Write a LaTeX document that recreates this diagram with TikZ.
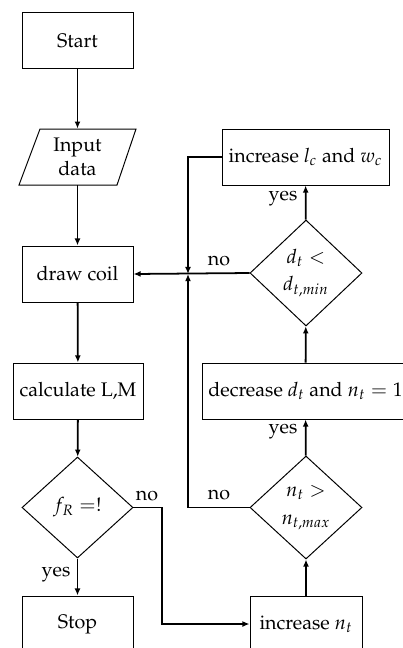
\documentclass[tikz,border=0pt]{standalone}
\usepackage[T1]{fontenc}
\usepackage{mathpazo}
\usetikzlibrary{shapes.geometric,arrows.meta}
\def\pxu{0.5086pt}
\tikzset{
  box/.style={draw, line width=0.5pt, rectangle, inner sep=0pt, minimum height=56*\pxu, align=center},
  dia/.style={draw, line width=0.5pt, diamond, inner sep=0pt, align=center},
  flow/.style={line width=0.9pt, -{Latex[length=3.6pt,width=3pt]}},
  lbl/.style={inner sep=0pt}
}
\begin{document}
\begin{tikzpicture}[x=0.5086pt,y=-0.5086pt]
\useasboundingbox (0,0) rectangle (403,648);
\clip (0,0) rectangle (403,648);
% left column
\node[box, minimum width=111*\pxu] (start) at (77.5,40.5) {Start};
\node[inner sep=0pt, minimum height=56*\pxu, minimum width=60*\pxu, align=center] (input) at (77.5,157) {Input\\data};
\draw[line width=0.5pt] (40,129) -- (136,129) -- (117,185) -- (19,185) -- cycle;
\node[box, minimum width=111*\pxu] (coil) at (77.5,274) {draw coil};
\node[box, minimum width=130*\pxu] (calc) at (78,391) {calculate L,M};
\node[dia, minimum width=111*\pxu, minimum height=101*\pxu] (fR) at (77.5,507.5) {$f_R =!$};
\node[box, minimum width=111*\pxu] (stop) at (77.5,624) {Stop};
% right column
\node[box, minimum width=167*\pxu] (lc) at (305.5,157) {increase $l_c$ and $w_c$};
\node[dia, minimum width=112*\pxu, minimum height=106*\pxu] (dt) at (306,273) {$d_t<$\\[2pt]$d_{t,min}$};
\node[box, minimum width=207*\pxu] (dec) at (305.5,391) {decrease $d_t$ and $n_t=1$};
\node[dia, minimum width=112*\pxu, minimum height=103*\pxu] (nt) at (306,507.5) {$n_t>$\\[2pt]$n_{t,max}$};
\node[box, minimum width=112*\pxu] (inc) at (306,624) {increase $n_t$};
\coordinate (junc) at (188,274);
\coordinate (turn) at (162,507.5);
% connectors
\draw[flow] (start) -- (input);
\draw[flow] (input) -- (coil);
\draw[flow] (coil) -- (calc);
\draw[flow] (calc) -- (fR);
\draw[flow] (fR) -- (stop);
\draw[flow] (fR.east) -- (turn) |- (inc.west);
\draw[flow] (inc) -- (nt);
\draw[flow] (nt) -- (dec);
\draw[flow] (dec) -- (dt);
\draw[flow] (dt) -- (lc);
\draw[flow] (dt.west) -- (coil.east);
\draw[flow] (lc.west) -| (junc);
\draw[flow] (nt.west) -| (junc);
% labels
\node[lbl] (l1) at (147,496) {no};
\node[lbl] (l2) at (56,574) {yes};
\node[lbl] (l3) at (283,198) {yes};
\node[lbl] (l4) at (219,261) {no};
\node[lbl] (l5) at (283,432) {yes};
\node[lbl] (l6) at (219,495) {no};
\end{tikzpicture}
\end{document}
